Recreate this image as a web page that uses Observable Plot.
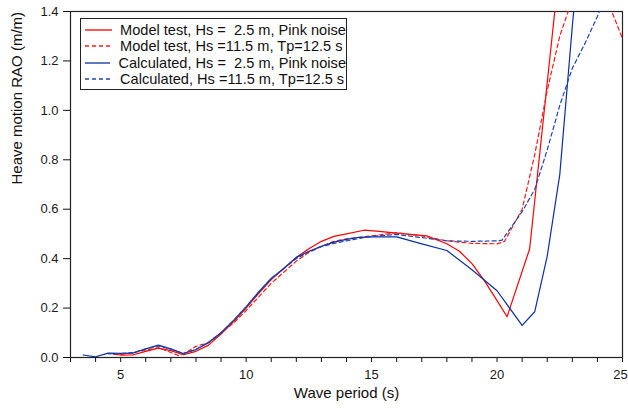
<!DOCTYPE html>
<html>
<head>
<meta charset="utf-8">
<script src="https://cdn.jsdelivr.net/npm/d3@7"></script>
<script src="https://cdn.jsdelivr.net/npm/@observablehq/plot@0.6"></script>
<style>
  html, body { margin: 0; padding: 0; background: #fff; }
  #wrap { position: relative; width: 628px; height: 409px; font-family: "Liberation Sans", Arial, sans-serif; }
  #legend { position: absolute; left: 80px; top: 18px; width: 267px; height: 72px; border: 1px solid #222; background: #fff; box-sizing: border-box; padding-top: 3px; }
  .row { height: 16.3px; display: flex; align-items: center; font-size: 14.6px; color: #111; white-space: pre; }
  .row svg { margin-left: 4px; margin-right: 8px; }
</style>
</head>
<body>
<div id="wrap"></div>
<script>
// ---- Data ----
const seriesNames = [
  "Model test, Hs =  2.5 m, Pink noise",
  "Model test, Hs =11.5 m, Tp=12.5 s",
  "Calculated, Hs =  2.5 m, Pink noise",
  "Calculated, Hs =11.5 m, Tp=12.5 s"
];
const seriesColors = ["#ff0000", "#ff1a1a", "#0b2fa3", "#1f45b0"];
const seriesDash = [null, "4,3", null, "4,3"];

const modelSmallX = [4.7, 5.0, 5.5, 6.0, 6.5, 7.0, 7.5, 8.0, 8.5, 9.0, 9.5, 10.0, 10.5, 11.0, 11.5, 12.0, 12.5, 13.0, 13.5, 14.0, 14.7, 15.3, 16.0, 17.2, 18.0, 18.5, 19.0, 19.5, 20.0, 20.4, 21.3, 22.3, 22.5];
const modelSmallY = [0.014, 0.010, 0.011, 0.025, 0.038, 0.028, 0.011, 0.025, 0.050, 0.095, 0.145, 0.200, 0.260, 0.315, 0.360, 0.405, 0.440, 0.470, 0.490, 0.500, 0.515, 0.510, 0.503, 0.492, 0.460, 0.430, 0.380, 0.310, 0.230, 0.165, 0.440, 1.400, 1.600];

const modelLargeX = [5.0, 5.5, 6.0, 6.5, 7.0, 7.3, 7.6, 8.0, 8.5, 9.0, 9.5, 10.0, 10.5, 11.0, 11.5, 12.0, 12.5, 13.0, 13.5, 14.0, 15.0, 16.0, 17.0, 18.0, 19.0, 20.0, 20.3, 21.0, 21.5, 22.0, 22.5, 23.0, 23.5, 24.0, 24.5, 25.0];
const modelLargeY = [0.012, 0.020, 0.030, 0.040, 0.020, 0.008, 0.020, 0.045, 0.060, 0.100, 0.140, 0.190, 0.245, 0.300, 0.345, 0.390, 0.425, 0.450, 0.470, 0.480, 0.492, 0.505, 0.492, 0.472, 0.462, 0.460, 0.470, 0.600, 0.820, 1.080, 1.300, 1.450, 1.550, 1.550, 1.420, 1.290];

const calcSmallX = [3.5, 4.0, 4.5, 5.0, 5.5, 6.0, 6.5, 7.0, 7.5, 8.0, 8.5, 9.0, 9.5, 10.0, 10.5, 11.0, 11.5, 12.0, 12.5, 13.0, 13.5, 14.0, 14.5, 15.0, 16.0, 17.0, 18.0, 19.0, 20.0, 21.0, 21.5, 22.0, 22.5, 23.0, 23.5];
const calcSmallY = [0.010, 0.003, 0.018, 0.017, 0.018, 0.035, 0.050, 0.035, 0.016, 0.032, 0.060, 0.100, 0.150, 0.205, 0.265, 0.320, 0.360, 0.405, 0.430, 0.450, 0.467, 0.478, 0.486, 0.488, 0.488, 0.460, 0.433, 0.355, 0.270, 0.130, 0.185, 0.410, 0.740, 1.340, 1.900];

const calcLargeX = [4.5, 5.0, 5.5, 6.0, 6.5, 7.0, 7.5, 8.0, 8.5, 9.0, 9.5, 10.0, 10.5, 11.0, 11.5, 12.0, 12.5, 13.0, 13.5, 14.0, 15.0, 16.0, 17.0, 18.0, 19.0, 20.0, 20.2, 21.0, 21.5, 22.0, 22.5, 23.0, 23.5, 24.0, 24.5];
const calcLargeY = [0.015, 0.016, 0.020, 0.035, 0.047, 0.033, 0.015, 0.033, 0.062, 0.100, 0.150, 0.205, 0.265, 0.320, 0.360, 0.400, 0.428, 0.448, 0.462, 0.472, 0.490, 0.498, 0.485, 0.472, 0.470, 0.472, 0.475, 0.590, 0.680, 0.840, 1.020, 1.170, 1.270, 1.380, 1.500];

const xTicks = d3.range(3, 26, 1);
const xLabelled = [5, 10, 15, 20];
const xLastLabel = [25];
const yTicks = [0, 0.2, 0.4, 0.6, 0.8, 1.0, 1.2, 1.4];

const series = [
  [modelSmallX, modelSmallY],
  [modelLargeX, modelLargeY],
  [calcSmallX, calcSmallY],
  [calcLargeX, calcLargeY]
];
const rows = [];
series.forEach(([xs, ys], i) => xs.forEach((x, j) => rows.push({period: x, rao: ys[j], s: i})));

const lineMarks = series.map((_, i) => Plot.line(rows.filter(r => r.s === i), {
  x: "period", y: "rao", stroke: seriesColors[i], strokeWidth: 1.2,
  strokeDasharray: seriesDash[i] || undefined, clip: true, curve: "linear"
}));

const chart = Plot.plot({
  width: 628, height: 409,
  marginLeft: 70, marginRight: 6, marginTop: 11, marginBottom: 52,
  style: { fontFamily: "Liberation Sans, Arial, sans-serif", fontSize: "13px", color: "#1a1a1a", background: "white" },
  x: { domain: [3, 25] },
  y: { domain: [0, 1.4] },
  marks: [
    Plot.axisX({ ticks: xTicks, tickSize: 5, tickPadding: 7, tickFormat: d => xLabelled.includes(d) ? String(d) : "", label: null, stroke: "#111" }),
    Plot.axisX({ ticks: xLastLabel, tickSize: 0, tickPadding: 12, dx: -2, tickFormat: d => String(d), label: null }),
    Plot.axisY({ ticks: yTicks, tickSize: 7, tickPadding: 5, tickFormat: d3.format(".1f"), label: null, stroke: "#111" }),
    Plot.frame({ stroke: "#222", strokeWidth: 1.2 }),
    ...lineMarks,
    Plot.text(["Wave period (s)"], { frameAnchor: "bottom", dy: 40, fontSize: 15, fill: "#111" }),
    Plot.text(["Heave motion RAO (m/m)"], { frameAnchor: "left", dx: -53, rotate: -90, fontSize: 15, fill: "#111" })
  ]
});

const wrap = document.getElementById("wrap");
wrap.appendChild(chart);

const legend = document.createElement("div");
legend.id = "legend";
seriesNames.forEach((name, i) => {
  const row = document.createElement("div");
  row.className = "row";
  const dash = seriesDash[i] ? `stroke-dasharray="${seriesDash[i]}"` : "";
  row.innerHTML = `<svg width="27" height="4"><line x1="0" y1="2" x2="27" y2="2" stroke="${seriesColors[i]}" stroke-width="1.3" ${dash}></line></svg><span>${name}</span>`;
  legend.appendChild(row);
});
wrap.appendChild(legend);
</script>
</body>
</html>
